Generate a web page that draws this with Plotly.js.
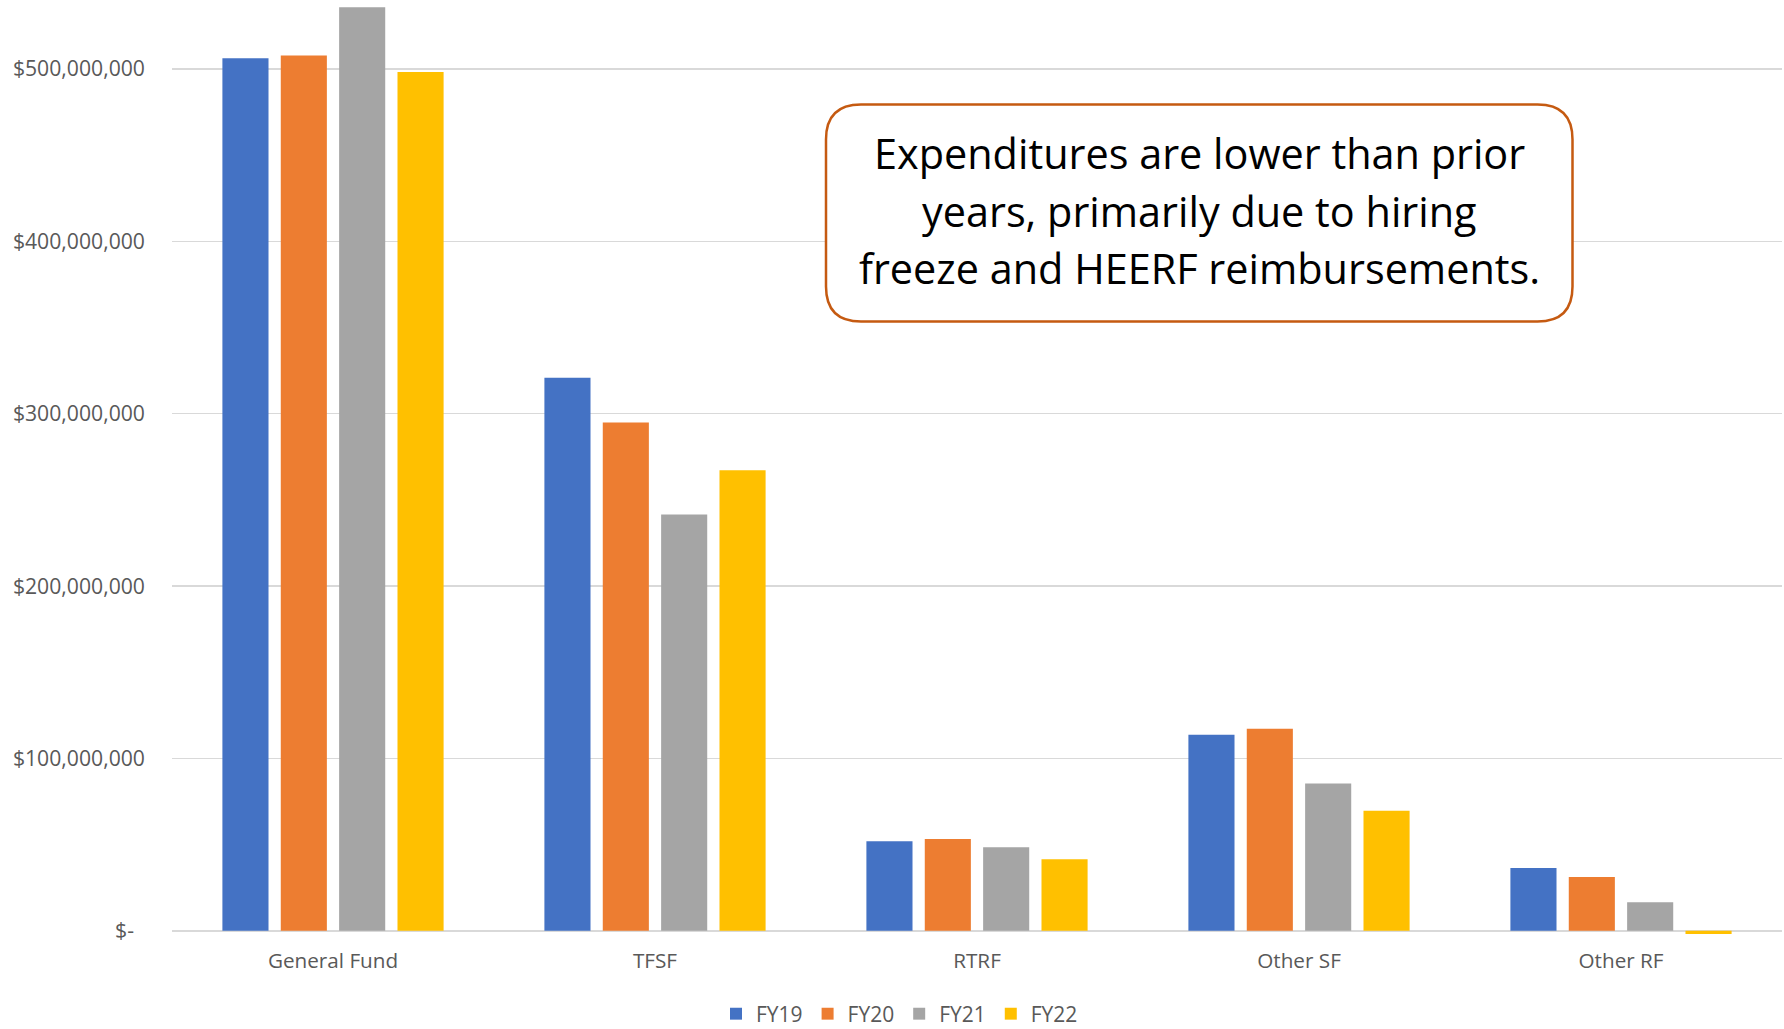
<!DOCTYPE html>
<html><head><meta charset="utf-8">
<script src="https://cdn.plot.ly/plotly-3.0.1.min.js"></script>
<style>html,body{margin:0;padding:0;background:#fff;overflow:hidden;} #chart{width:1784px;height:1029px;}</style>
</head><body><div id="chart"></div>
<script>
// ---- data ----
const categories = ["General Fund", "TFSF", "RTRF", "Other SF", "Other RF"];
const seriesNames = ["FY19", "FY20", "FY21", "FY22"];
const fy19 = [506.2e6, 320.8e6, 52.0e6, 113.8e6, 36.5e6];
const fy20 = [507.8e6, 294.9e6, 53.3e6, 117.3e6, 31.3e6];
const fy21 = [535.8e6, 241.5e6, 48.5e6, 85.4e6, 16.6e6];
const fy22 = [498.3e6, 267.2e6, 41.5e6, 69.7e6, -1.8e6];
const yTickVals = [0, 100e6, 200e6, 300e6, 400e6, 500e6];
const yTickText = ["$-\u00a0\u00a0", "$100,000,000", "$200,000,000", "$300,000,000", "$400,000,000", "$500,000,000"];
const noteLines = ["Expenditures are lower than prior", "years, primarily due to hiring", "freeze and HEERF reimbursements."];

// ---- styling ----
const colors = ["#4472C4", "#ED7D31", "#A5A5A5", "#FFC000"];
const W = 1784, H = 1029;
const M = {l: 172, r: 2, t: 0, b: 93};
const PW = W - M.l - M.r, PH = H - M.t - M.b;
const px = x => (x - M.l) / PW;
const py = y => 1 - (y - M.t) / PH;
const FONT = "Open Sans, Noto Sans, sans-serif";

const values = [fy19, fy20, fy21, fy22];
const traces = seriesNames.map((n, i) => ({
  type: "bar", name: n, x: categories, y: values[i],
  marker: {color: colors[i], line: {width: 0}},
  hoverinfo: "x+y+name"
}));

// rounded callout box (pixel geometry converted to paper coords)
const bx0 = 826, bx1 = 1572.5, by0 = 104.5, by1 = 321.5, r = 35;
const rx = r / PW, ry = r / PH;
const X0 = px(bx0), X1 = px(bx1), Y0 = py(by0), Y1 = py(by1);
const boxPath = `M${X0 + rx},${Y0} L${X1 - rx},${Y0} Q${X1},${Y0} ${X1},${Y0 - ry} ` +
  `L${X1},${Y1 + ry} Q${X1},${Y1} ${X1 - rx},${Y1} L${X0 + rx},${Y1} Q${X0},${Y1} ${X0},${Y1 + ry} ` +
  `L${X0},${Y0 - ry} Q${X0},${Y0} ${X0 + rx},${Y0} Z`;

const lineCenters = [153.3, 210.8, 268.3];
const annotations = noteLines.map((t, i) => ({
  xref: "paper", yref: "paper", x: px((bx0 + bx1) / 2), y: py(lineCenters[i]),
  xanchor: "center", yanchor: "middle", text: t, showarrow: false,
  font: {family: FONT, size: 41.4, color: "#000000"}
}));

const layout = {
  width: W, height: H,
  margin: {l: M.l, r: M.r, t: M.t, b: M.b, pad: 0, autoexpand: false},
  paper_bgcolor: "#ffffff", plot_bgcolor: "#ffffff",
  barmode: "group", bargap: 0.275, bargroupgap: 0.21,
  font: {family: FONT, color: "#595959", size: 20.7},
  xaxis: {
    type: "category", showgrid: false, showline: false, zeroline: false,
    ticks: "", ticklabelstandoff: 10, tickfont: {family: FONT, size: 20.7, color: "#595959"},
    fixedrange: true, automargin: false
  },
  yaxis: {
    range: [-3e6, 540e6], tickvals: yTickVals, ticktext: yTickText,
    showgrid: true, gridcolor: "#D9D9D9", gridwidth: 1.5,
    zeroline: true, zerolinecolor: "#D9D9D9", zerolinewidth: 1.5,
    showline: false, ticks: "", ticklabelstandoff: 26,
    tickfont: {family: FONT, size: 21.2, color: "#595959"},
    fixedrange: true, automargin: false
  },
  showlegend: true,
  legend: {
    orientation: "h", xref: "paper", yref: "paper",
    x: px(716), xanchor: "left", y: py(1014), yanchor: "middle",
    font: {family: FONT, size: 21, color: "#595959"},
    bgcolor: "rgba(0,0,0,0)", borderwidth: 0, traceorder: "normal"
  },
  shapes: [{
    type: "path", xref: "paper", yref: "paper", path: boxPath,
    fillcolor: "#ffffff", line: {color: "#C55A11", width: 2.5}, layer: "above"
  }],
  annotations: annotations
};

Plotly.newPlot("chart", traces, layout, {displayModeBar: false, staticPlot: true});
</script>
</body></html>
